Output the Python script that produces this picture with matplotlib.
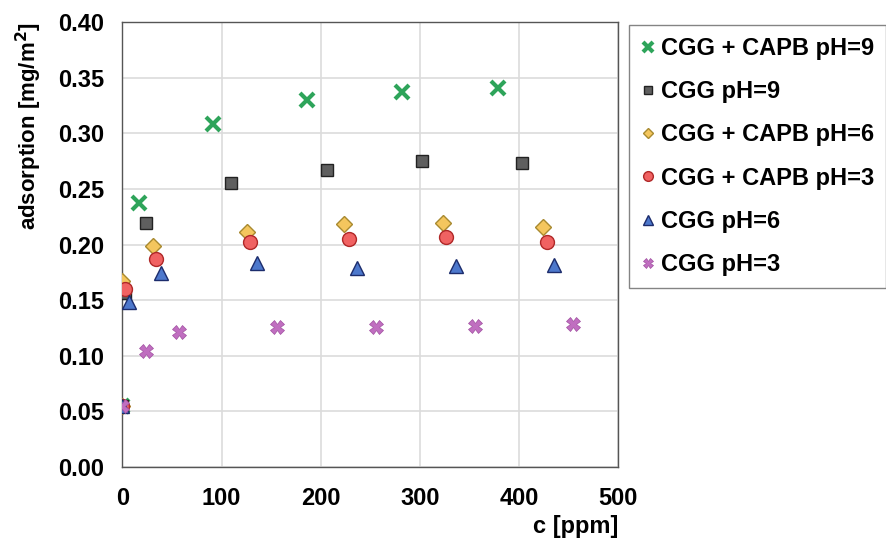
import matplotlib
matplotlib.use("Agg")
import matplotlib.pyplot as plt
import numpy as np

plt.rcParams['font.family'] = ['Liberation Sans', 'DejaVu Sans']
plt.rcParams['font.weight'] = 'bold'

# data
c_capb9 = [0, 2, 17, 91, 186, 282, 379]
a_capb9 = [0.055, 0.155, 0.237, 0.308, 0.330, 0.337, 0.341]
c_cgg9 = [0, 2.5, 24, 110, 206, 302, 403]
a_cgg9 = [0.055, 0.156, 0.219, 0.255, 0.267, 0.275, 0.273]
c_capb6 = [0, 0, 31, 126, 223, 323, 424]
a_capb6 = [0.055, 0.167, 0.199, 0.211, 0.218, 0.219, 0.216]
c_capb3 = [0, 3, 34, 129, 228, 326, 428]
a_capb3 = [0.055, 0.160, 0.187, 0.202, 0.205, 0.207, 0.202]
c_cgg6 = [0, 7, 39, 136, 237, 336, 435]
a_cgg6 = [0.055, 0.148, 0.174, 0.183, 0.179, 0.181, 0.182]
c_cgg3 = [0, 24, 57, 156, 256, 356, 454]
a_cgg3 = [0.055, 0.104, 0.121, 0.126, 0.126, 0.127, 0.129]

fig = plt.figure(figsize=(8.87, 5.47), dpi=100)
ax = fig.add_axes([0.138, 0.146, 0.559, 0.814])

ax.plot(c_capb9, a_capb9, 'x', ls='none', color='#2ea45a', ms=10, mew=3,
        label='CGG + CAPB pH=9', zorder=3)
ax.plot(c_cgg9, a_cgg9, 's', ls='none', mfc='#5f5f5f', mec='#222222', ms=9,
        mew=1, label='CGG pH=9', zorder=3)
ax.plot(c_capb6, a_capb6, 'D', ls='none', mfc='#f4c65e', mec='#a88a30', ms=8,
        mew=1, label='CGG + CAPB pH=6', zorder=3)
ax.plot(c_capb3, a_capb3, 'o', ls='none', mfc='#f06262', mec='#b02828', ms=10,
        mew=1, label='CGG + CAPB pH=3', zorder=3)
ax.plot(c_cgg6, a_cgg6, '^', ls='none', mfc='#4d78cc', mec='#1c2c6c', ms=10,
        mew=1, label='CGG pH=6', zorder=3)
ax.plot(c_cgg3, a_cgg3, 'X', ls='none', color='#c06ec0', mec='#a050a0', ms=10,
        mew=0.5, label='CGG pH=3', zorder=3)

ax.set_xlim(0, 500)
ax.set_ylim(0, 0.40)
ax.set_xticks(np.arange(0, 501, 100))
ax.set_yticks(np.arange(0, 0.401, 0.05))
ax.set_yticklabels(['%.2f' % v for v in np.arange(0, 0.401, 0.05)])
ax.tick_params(labelsize=17, length=0)
ax.tick_params(axis='x', pad=14)
ax.tick_params(axis='y', pad=13)
ax.grid(True, color='#dcdcdc', lw=1.2)
ax.set_axisbelow(True)
for s in ax.spines.values():
    s.set_color('#555555')
    s.set_linewidth(1)

ax.set_xlabel('c [ppm]', fontsize=17, fontweight='bold', loc='right', labelpad=4)
ax.set_ylabel('adsorption [mg/m$^\\mathbf{2}$]', fontsize=16, fontweight='bold',
              loc='top', labelpad=10)

leg = fig.legend(loc='upper left', bbox_to_anchor=(629 / 887, 1 - 25 / 547),
                 borderaxespad=0, fontsize=17, markerscale=0.7,
                 handlelength=0.6, handletextpad=0.25, labelspacing=0.86,
                 borderpad=0.5, frameon=True, fancybox=False,
                 edgecolor='#666666')
for t in leg.get_texts():
    t.set_fontweight('bold')

fig.savefig('out.png', dpi=100)
